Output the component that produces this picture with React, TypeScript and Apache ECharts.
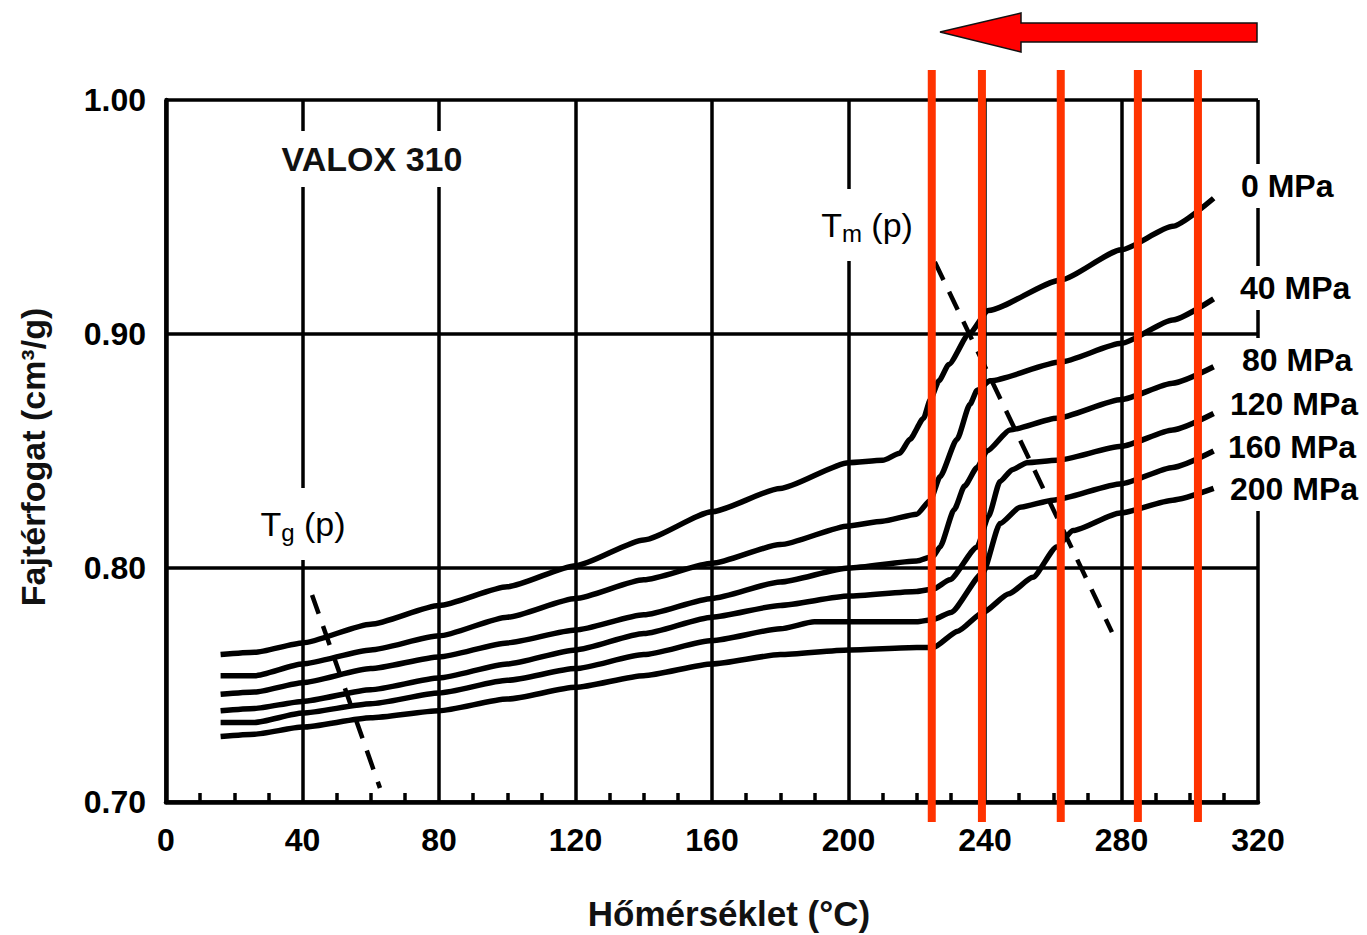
import React, { useEffect, useRef } from "react";
import * as echarts from "echarts";

// Specific volume (cm³/g) vs. temperature (°C) for VALOX 310 at several pressures
const pressureLabels = ["0 MPa", "40 MPa", "80 MPa", "120 MPa", "160 MPa", "200 MPa"];

const vol0MPa: [number, number][] = [
  [16, 0.763], [26, 0.764], [40, 0.768], [60, 0.776], [80, 0.784], [100, 0.792],
  [120, 0.801], [140, 0.812], [160, 0.824], [180, 0.834], [200, 0.845], [210, 0.846],
  [215, 0.849], [218, 0.855], [222, 0.864], [224, 0.872], [226.5, 0.88], [229.4, 0.887],
  [235.3, 0.9], [241, 0.91], [262, 0.923], [280, 0.936], [295, 0.946], [307, 0.958],
];
const vol40MPa: [number, number][] = [
  [16, 0.754], [26, 0.754], [40, 0.759], [60, 0.765], [80, 0.771], [100, 0.779],
  [120, 0.787], [140, 0.795], [160, 0.802], [180, 0.81], [200, 0.818], [210, 0.82],
  [220, 0.823], [224, 0.829], [226.8, 0.839], [231.8, 0.855], [235.6, 0.87], [237.7, 0.876],
  [241.5, 0.88], [262, 0.888], [280, 0.896], [295, 0.906], [307, 0.915],
];
const vol80MPa: [number, number][] = [
  [16, 0.746], [26, 0.747], [40, 0.751], [60, 0.757], [80, 0.762], [100, 0.768],
  [120, 0.7735], [140, 0.78], [160, 0.787], [180, 0.794], [200, 0.8], [220, 0.803],
  [224.8, 0.805], [226.8, 0.809], [231, 0.825], [234, 0.835], [237.7, 0.843], [240.6, 0.85],
  [247.3, 0.859], [261, 0.864], [280, 0.872], [295, 0.879], [307, 0.886],
];
const vol120MPa: [number, number][] = [
  [16, 0.739], [26, 0.74], [40, 0.743], [60, 0.748], [80, 0.753], [100, 0.759],
  [120, 0.765], [140, 0.772], [160, 0.779], [180, 0.784], [200, 0.788], [220, 0.79],
  [224.8, 0.791], [229.7, 0.795], [237.7, 0.809], [241, 0.822], [244.4, 0.837], [248, 0.842],
  [252.3, 0.845], [261, 0.846], [280, 0.852], [295, 0.859], [307, 0.866],
];
const vol160MPa: [number, number][] = [
  [16, 0.734], [26, 0.734], [40, 0.738], [60, 0.742], [80, 0.7466], [100, 0.752],
  [120, 0.757], [140, 0.763], [160, 0.769], [180, 0.774], [190, 0.777], [200, 0.777],
  [220, 0.777], [224.8, 0.778], [230, 0.781], [239.4, 0.798], [244.4, 0.819], [250.3, 0.826],
  [259.9, 0.829], [280, 0.836], [295, 0.843], [307, 0.85],
];
const vol200MPa: [number, number][] = [
  [16, 0.728], [26, 0.729], [40, 0.732], [60, 0.736], [80, 0.739], [100, 0.744],
  [120, 0.749], [140, 0.754], [160, 0.759], [180, 0.763], [200, 0.765], [220, 0.766],
  [224.8, 0.766], [232, 0.773], [239.4, 0.781], [247, 0.789], [254, 0.796], [261, 0.809],
  [265.8, 0.816], [279.6, 0.8235], [295, 0.829], [307, 0.834],
];

// Pressure-dependent glass transition and melting temperature traces
const tgTrace: [number, number][] = [[42.8, 0.7885], [62.7, 0.706]];
const tmTrace: [number, number][] = [[225.3, 0.9308], [277.2, 0.7726]];

// Highlighted temperatures (vertical markers) and their vertical extent
const markerTemps = [224.4, 239.1, 262.2, 284.8, 302.4];
const markerSpan = [0.6915, 1.0128];

const FONT = '"Liberation Sans", Arial, Helvetica, sans-serif';

export default function App() {
  const ref = useRef<HTMLDivElement>(null);

  useEffect(() => {
    if (!ref.current) return;
    const chart = echarts.init(ref.current, undefined, { renderer: "svg" });

    const curves = [vol0MPa, vol40MPa, vol80MPa, vol120MPa, vol160MPa, vol200MPa];

    const curveSeries = curves.map((data, i) => ({
      name: pressureLabels[i],
      type: "line",
      data,
      showSymbol: false,
      smooth: 0.2,
      smoothMonotone: "x",
      lineStyle: { color: "#000", width: 5.5 },
      z: 3,
    }));

    const traceSeries = [tgTrace, tmTrace].map((data) => ({
      type: "line",
      data,
      showSymbol: false,
      lineStyle: { color: "#000", width: 4.5, type: [20, 13] },
      z: 3,
    }));

    const markerSeries = markerTemps.map((t) => ({
      type: "line",
      data: [[t, markerSpan[0]], [t, markerSpan[1]]],
      showSymbol: false,
      clip: false,
      lineStyle: { color: "#ff3300", width: 8 },
      z: 5,
    }));

    // Pressure labels at the right-hand end of each curve
    const labelPos: [number, number][] = [
      [1237, 186], [1236, 288], [1238, 360], [1226, 404], [1224, 447], [1226, 489],
    ];
    const pressureTexts = pressureLabels.map((text, i) => ({
      type: "text",
      x: labelPos[i][0],
      y: labelPos[i][1],
      z: 100,
      style: {
        text,
        fontSize: 32,
        fontWeight: "bold",
        fontFamily: FONT,
        fill: "#000",
        align: "left",
        verticalAlign: "middle",
        backgroundColor: "#fff",
        padding: [6, 4],
      },
    }));

    const symbolText = (x: number, y: number, main: string, sub: string) => ({
      type: "text",
      x,
      y,
      z: 100,
      style: {
        text: `{a|${main}}{b|${sub}}{a| (p)}`,
        fill: "#000",
        align: "center",
        verticalAlign: "middle",
        backgroundColor: "#fff",
        padding: [16, 4],
        rich: {
          a: { fontSize: 34, lineHeight: 40, fontFamily: FONT, fill: "#000" },
          b: { fontSize: 24, lineHeight: 24, fontFamily: FONT, fill: "#000", verticalAlign: "bottom" },
        },
      },
    });

    chart.setOption({
      animation: false,
      backgroundColor: "#fff",
      grid: { left: 166, right: 109, top: 100, bottom: 133, containLabel: false },
      xAxis: {
        type: "value",
        min: 0,
        max: 320,
        interval: 40,
        axisLine: { show: true, lineStyle: { color: "#000", width: 4.5 } },
        axisTick: { show: false, inside: true },
        minorTick: { show: true, splitNumber: 4, length: 9, lineStyle: { color: "#000", width: 3.5 } },
        splitLine: { show: true, lineStyle: { color: "#000", width: 3.5 } },
        axisLabel: {
          color: "#000",
          fontSize: 32,
          fontWeight: "bold",
          fontFamily: FONT,
          margin: 22,
        },
      },
      yAxis: {
        type: "value",
        min: 0.7,
        max: 1.0,
        interval: 0.1,
        axisLine: { show: true, lineStyle: { color: "#000", width: 4.5 } },
        axisTick: { show: false },
        splitLine: { show: true, lineStyle: { color: "#000", width: 3.5 } },
        axisLabel: {
          color: "#000",
          fontSize: 32,
          fontWeight: "bold",
          fontFamily: FONT,
          margin: 20,
          formatter: (v: number) => v.toFixed(2),
        },
      },
      series: [...curveSeries, ...traceSeries, ...markerSeries],
      graphic: [
        // direction arrow above the markers
        {
          type: "polygon",
          z: 100,
          shape: {
            points: [
              [940, 32], [1021, 13], [1021, 23], [1257, 23],
              [1257, 42], [1021, 42], [1021, 52],
            ],
          },
          style: { fill: "#ff0000", stroke: "#111", lineWidth: 1.5 },
        },
        {
          type: "text",
          x: 372,
          y: 159,
          z: 100,
          style: {
            text: "VALOX 310",
            fontSize: 34,
            fontWeight: "bold",
            fontFamily: FONT,
            fill: "#111",
            align: "center",
            verticalAlign: "middle",
            backgroundColor: "#fff",
            padding: [11, 6],
          },
        },
        symbolText(867, 225, "T", "m"),
        symbolText(303, 524, "T", "g"),
        ...pressureTexts,
        {
          type: "text",
          x: 729,
          y: 913,
          z: 100,
          style: {
            text: "Hőmérséklet (°C)",
            fontSize: 35,
            fontWeight: "bold",
            fontFamily: FONT,
            fill: "#111",
            align: "center",
            verticalAlign: "middle",
          },
        },
        {
          type: "text",
          x: 33,
          y: 457,
          rotation: Math.PI / 2,
          z: 100,
          style: {
            text: "Fajtérfogat (cm³/g)",
            fontSize: 34,
            fontWeight: "bold",
            fontFamily: FONT,
            fill: "#111",
            align: "center",
            verticalAlign: "middle",
          },
        },
      ],
    });

    return () => chart.dispose();
  }, []);

  return (
    <div
      ref={ref}
      style={{ position: "fixed", left: 0, top: 0, width: 1367, height: 935, background: "#fff" }}
    />
  );
}
